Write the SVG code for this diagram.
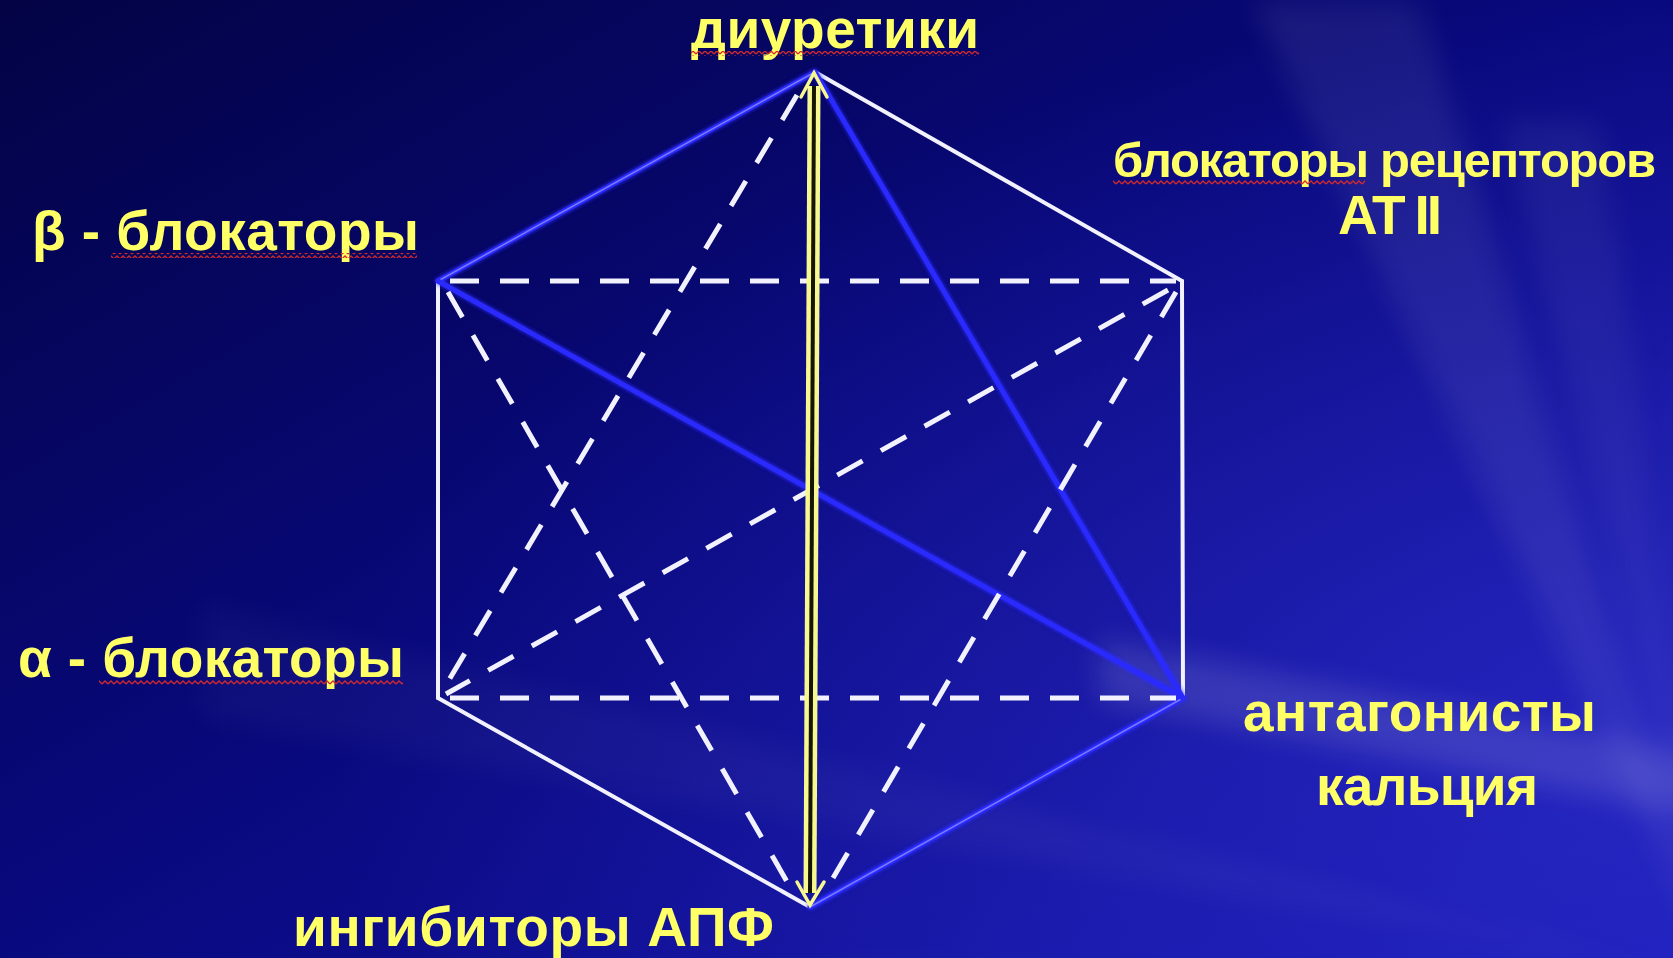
<svg xmlns="http://www.w3.org/2000/svg" width="1673" height="958" viewBox="0 0 1673 958">
<defs>
<linearGradient id="bg" x1="0" y1="0" x2="1" y2="1">
<stop offset="0" stop-color="#030345"/>
<stop offset="0.45" stop-color="#08087a"/>
<stop offset="1" stop-color="#1818b4"/>
</linearGradient>
<radialGradient id="glow" cx="1" cy="0.8" r="0.8">
<stop offset="0" stop-color="#3030d0" stop-opacity="0.6"/>
<stop offset="1" stop-color="#3030d0" stop-opacity="0"/>
</radialGradient>
<filter id="blur" x="-20%" y="-20%" width="140%" height="140%"><feGaussianBlur stdDeviation="14"/></filter>
<filter id="soft" x="-5%" y="-5%" width="110%" height="110%"><feGaussianBlur stdDeviation="2"/></filter>
<pattern id="wave" x="0" y="0" width="6" height="5" patternUnits="userSpaceOnUse">
<path d="M0,4 L3,1 L6,4" fill="none" stroke="#d42a2a" stroke-width="1.3"/>
</pattern>
<style>
.lbl{font-family:"Liberation Sans",Arial,sans-serif;font-weight:bold;font-size:55px;fill:#ffff66;}
.w{stroke:#f2f2ff;stroke-width:4;fill:none;stroke-linecap:round;}
.b{stroke:#2a2aff;stroke-width:5;fill:none;stroke-linecap:round;}
.bc{stroke:#7a7aff;stroke-width:1.5;fill:none;}
.d{stroke:#f2f2ff;stroke-width:5;fill:none;stroke-dasharray:29 21;}
.y{stroke:#f8f890;stroke-width:13;fill:none;}
.yk{stroke:#151500;stroke-width:4;fill:none;}
.ya{stroke:#f8f890;stroke-width:3.5;fill:none;stroke-linejoin:miter;stroke-linecap:round;}
</style>
</defs>
<rect width="1673" height="958" fill="url(#bg)"/>
<rect width="1673" height="958" fill="url(#glow)"/>
<g filter="url(#blur)" fill="#ffffff">
<polygon points="1720,760 1100,640 1100,700 1720,820" opacity="0.12"/>
<polygon points="1720,980 1250,0 1420,0" opacity="0.07"/>
<polygon points="1720,980 200,600 200,720" opacity="0.03"/>
<polygon points="1720,980 600,958 900,958" opacity="0.05"/>
<polygon points="1720,980 1673,300 1673,420" opacity="0.08"/>
<polygon points="1720,980 1500,120 1600,120" opacity="0.05"/>
</g>
<g id="connectors">
<line class="w" x1="815" y1="72" x2="1182" y2="281"/>
<line class="w" x1="1182" y1="281" x2="1183" y2="698"/>
<line class="w" x1="810" y1="907" x2="438" y2="698"/>
<line class="w" x1="438" y1="698" x2="438" y2="281"/>
<g filter="url(#soft)">
<line class="b" x1="815" y1="72" x2="438" y2="281" stroke-width="7"/>
<line class="b" x1="1183" y1="698" x2="810" y2="907" stroke-width="7"/>
<line class="b" x1="438" y1="281" x2="1183" y2="698" stroke-width="7"/>
<line class="b" x1="815" y1="72" x2="1183" y2="698" stroke-width="7"/>
</g>
<line class="b" x1="815" y1="72" x2="438" y2="281"/>
<line class="bc" x1="815" y1="72" x2="438" y2="281"/>
<line class="b" x1="1183" y1="698" x2="810" y2="907"/>
<line class="bc" x1="1183" y1="698" x2="810" y2="907"/>
<line class="b" x1="438" y1="281" x2="1183" y2="698"/>
<line class="b" x1="815" y1="72" x2="1183" y2="698"/>
<line class="d" x1="450" y1="281" x2="1176" y2="281"/>
<line class="d" x1="450" y1="698" x2="1176" y2="698"/>
<line class="d" x1="797" y1="95" x2="443" y2="690"/>
<line class="d" x1="448" y1="292" x2="793" y2="892"/>
<line class="d" x1="1168" y1="290" x2="446" y2="694"/>
<line class="d" x1="1176" y1="292" x2="826" y2="890"/>
<line class="y" x1="814" y1="86" x2="810" y2="893"/>
<line class="yk" x1="814" y1="86" x2="810" y2="893"/>
<polyline class="ya" points="801,97 814,73 827,97"/>
<polyline class="ya" points="797,882 810,905 824,882"/>
</g>
<g id="n-diuretics">
<text class="lbl" x="691" y="48" textLength="288">диуретики</text>
<rect x="691" y="51" width="288" height="5" fill="url(#wave)"/>
</g>
<g id="n-beta">
<text class="lbl" x="32" y="250" textLength="387">β - блокаторы</text>
<rect x="111" y="253" width="306" height="5" fill="url(#wave)"/>
</g>
<g id="n-alpha">
<text class="lbl" x="18" y="677" textLength="386">α - блокаторы</text>
<rect x="99" y="680" width="304" height="5" fill="url(#wave)"/>
</g>
<g id="n-arb">
<text class="lbl" x="1113" y="177" style="font-size:49px" textLength="543">блокаторы рецепторов</text>
<rect x="1113" y="180" width="252" height="5" fill="url(#wave)"/>
<text class="lbl" x="1338" y="234" textLength="104">АТ II</text>
</g>
<g id="n-cca">
<text class="lbl" x="1243" y="731" textLength="353">антагонисты</text>
<text class="lbl" x="1316" y="805" textLength="222">кальция</text>
</g>
<g id="n-ace">
<text class="lbl" x="293" y="946" textLength="481">ингибиторы АПФ</text>
</g>
</svg>
